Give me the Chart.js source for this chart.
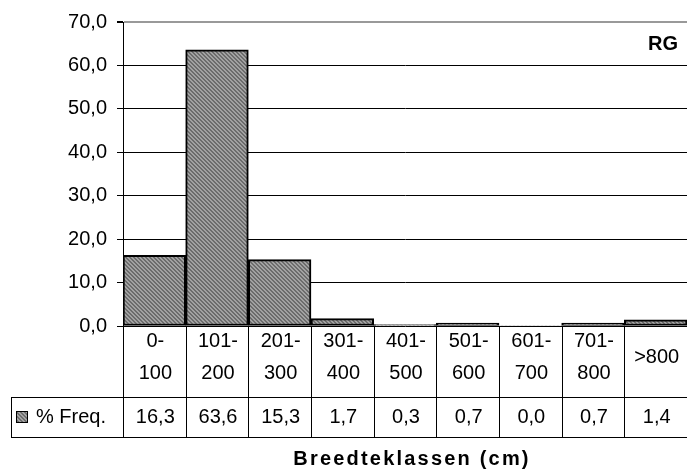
<!DOCTYPE html>
<html>
<head>
<meta charset="utf-8">
<script src="https://cdn.jsdelivr.net/npm/chart.js@4/dist/chart.umd.min.js"></script>
<style>
  html, body { margin: 0; padding: 0; background: #ffffff; }
  #chart { display: block; }
</style>
</head>
<body>
<canvas id="chart" width="687" height="472"></canvas>
<script>
// width classes, two-line labels for the table header
const classLabels = [
  ["0-", "100"], ["101-", "200"], ["201-", "300"], ["301-", "400"],
  ["401-", "500"], ["501-", "600"], ["601-", "700"], ["701-", "800"], [">800"]
]
const freqValues = [16.3, 63.6, 15.3, 1.7, 0.3, 0.7, 0.0, 0.7, 1.4]
const seriesName = "% Freq."
const yTicks = [0, 10, 20, 30, 40, 50, 60, 70]
const cornerLabel = "RG"
const axisTitle = "Breedteklassen (cm)"

const FONT = "'Liberation Sans', Arial, sans-serif"
const FONT_SIZE = 20
const tableBottom = 437
const rowSplit = 397
const tableLeft = 11

const fmt = (v) => v.toFixed(1).replace(".", ",")

// fine diagonal hatch, two grey tones
function hatchPattern(ctx) {
  const c = document.createElement("canvas")
  c.width = 4
  c.height = 4
  const p = c.getContext("2d")
  p.fillStyle = "#a2a2a2"
  p.fillRect(0, 0, 4, 4)
  p.fillStyle = "#6c6c6c"
  for (let i = 0; i < 4; i++) {
    p.fillRect(i, i, 1, 1)
    p.fillRect((i + 1) % 4, i, 1, 1)
  }
  return ctx.createPattern(c, "repeat")
}

const canvas = document.getElementById("chart")
const ctx = canvas.getContext("2d")
const hatch = hatchPattern(ctx)

const dataTable = {
  id: "dataTable",
  afterDraw(chart) {
    const { ctx, chartArea, scales } = chart
    const x = scales.x
    const n = classLabels.length
    const step = (chartArea.right - chartArea.left) / n

    ctx.save()
    ctx.strokeStyle = "#000000"
    ctx.lineWidth = 1

    // grid of the table
    ctx.beginPath()
    for (let i = 0; i <= n; i++) {
      const px = Math.round(chartArea.left + i * step) + 0.5
      ctx.moveTo(px, chartArea.bottom)
      ctx.lineTo(px, tableBottom)
    }
    ctx.moveTo(tableLeft, rowSplit + 0.5)
    ctx.lineTo(chartArea.right, rowSplit + 0.5)
    ctx.moveTo(tableLeft, tableBottom + 0.5)
    ctx.lineTo(chartArea.right, tableBottom + 0.5)
    ctx.moveTo(tableLeft + 0.5, rowSplit)
    ctx.lineTo(tableLeft + 0.5, tableBottom)
    ctx.stroke()

    ctx.fillStyle = "#000000"
    ctx.font = FONT_SIZE + "px " + FONT
    ctx.textAlign = "center"
    ctx.textBaseline = "middle"
    classLabels.forEach((lines, i) => {
      const cx = x.getPixelForValue(i) + 1
      const mid = 357
      lines.forEach((line, j) => {
        const cy = mid + (j - (lines.length - 1) / 2) * 32
        ctx.fillText(line, cx, cy)
      })
      ctx.fillText(fmt(freqValues[i]), cx, (rowSplit + tableBottom) / 2)
    })

    // legend key in the row header
    ctx.fillStyle = hatch
    ctx.fillRect(17, 412, 10, 10)
    ctx.strokeRect(16.5, 411.5, 11, 11)
    ctx.fillStyle = "#000000"
    ctx.textAlign = "left"
    ctx.fillText(seriesName, 36, (rowSplit + tableBottom) / 2)

    // corner label
    ctx.font = "bold " + FONT_SIZE + "px " + FONT
    ctx.textAlign = "right"
    ctx.fillText(cornerLabel, 678, 44)

    // axis title, spaced out
    ctx.textAlign = "center"
    ctx.letterSpacing = "2.2px"
    ctx.fillText(axisTitle, 412, 459)
    ctx.restore()
  }
}

new Chart(canvas, {
  type: "bar",
  data: {
    labels: classLabels.map((l) => l.join(" ")),
    datasets: [
      {
        label: seriesName,
        data: freqValues,
        backgroundColor: hatch,
        borderColor: "#000000",
        borderWidth: (c) => (c.raw > 0 ? 2 : 0),
        borderSkipped: false,
        categoryPercentage: 1,
        barPercentage: 1
      }
    ]
  },
  options: {
    responsive: false,
    animation: false,
    layout: {
      padding: { top: 22, right: 0, bottom: 146, left: 0 }
    },
    plugins: {
      legend: { display: false },
      tooltip: { enabled: false }
    },
    scales: {
      x: {
        display: false
      },
      y: {
        min: 0,
        max: 70,
        afterFit(scale) {
          scale.width = 123
        },
        afterBuildTicks(scale) {
          scale.ticks = yTicks.map((v) => ({ value: v }))
        },
        border: { color: "#000000", width: 1 },
        grid: {
          color: (c) => (c.tick && c.tick.value === 70 ? "#999999" : "#000000"),
          lineWidth: (c) => (c.tick && c.tick.value === 70 ? 2 : 1),
          tickColor: "#000000",
          tickLength: 6,
          drawTicks: true
        },
        ticks: {
          color: "#000000",
          padding: 10,
          font: { family: FONT, size: FONT_SIZE },
          callback: (v) => fmt(v)
        }
      }
    }
  },
  plugins: [dataTable]
})
</script>
</body>
</html>
